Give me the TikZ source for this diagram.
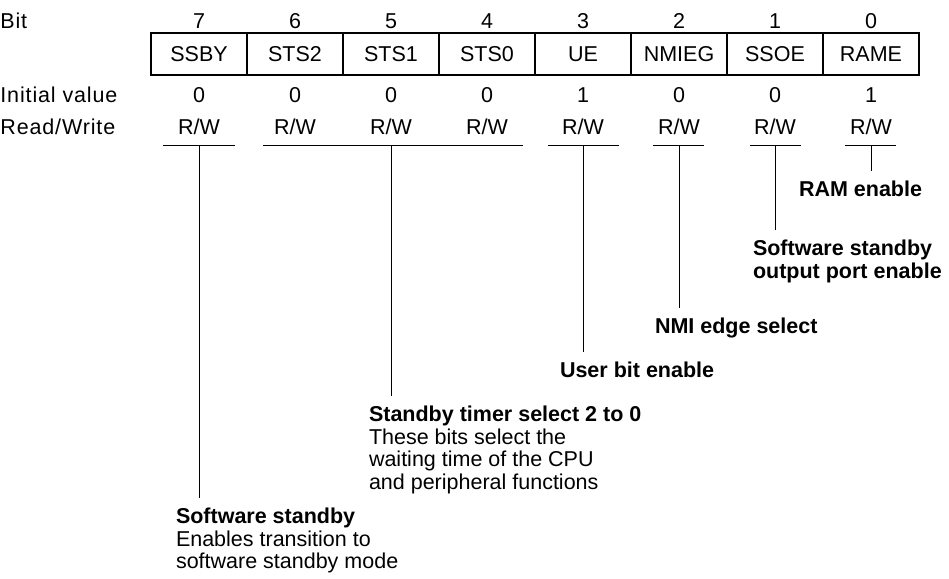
\documentclass[tikz,border=0pt]{standalone}
\usepackage{fontspec}
\setsansfont{Liberation Sans}
\usetikzlibrary{positioning}

\begin{document}
\begin{tikzpicture}[x=0.5pt, y=-0.5pt, font=\sffamily\fontsize{10.75}{11.25}\selectfont,
    cell/.style={draw, line width=0.7pt, minimum width=48pt, minimum height=21pt,
        inner sep=0pt, outer sep=0pt, text height=7.7pt, text depth=0pt},
    val/.style={inner sep=0pt, text height=7.7pt, text depth=0pt},
    rowlbl/.style={val, anchor=west},
    desc/.style={anchor=north west, align=left, inner sep=0pt,
        outer xsep=0pt, outer ysep=5pt},
    bar/.style={line width=0.5pt}]

    \useasboundingbox (0,0) rectangle (949,579);

    % 1. Row headings
    \node[rowlbl] (bitlbl) at (0,21) {\addfontfeature{LetterSpace=4}Bit};
    \node[rowlbl] (initlbl) at (0,95) {\addfontfeature{LetterSpace=4}Initial value};
    \node[rowlbl] (rwlbl) at (0,127) {\addfontfeature{LetterSpace=4}Read/Write};

    % 2. Register cells with bit numbers, initial values and access
    \foreach \fld/\b/\iv in {SSBY/7/0, STS2/6/0, STS1/5/0, STS0/4/0,
                             UE/3/1, NMIEG/2/0, SSOE/1/0, RAME/0/1} {
        \node[cell] (c\b) at ({199+96*(7-\b)},54) {\fld};
        \node[val] (b\b) at (c\b |- bitlbl) {\b};
        \node[val] (i\b) at (c\b |- initlbl) {\iv};
        \node[val] (rw\b) at (c\b |- rwlbl) {R/W};
    }

    % 3. Underlines below R/W
    \draw[bar] (163,145) -- (235,145);
    \draw[bar] (263,145) -- (523,145);
    \draw[bar] (548,145) -- (619,145);
    \draw[bar] (653,145) -- (704,145);
    \draw[bar] (750,145) -- (801,145);
    \draw[bar] (845,145) -- (896,145);

    \coordinate (ssby-bar) at (c7 |- 0,145);
    \coordinate (sts-bar) at (c5 |- 0,145);
    \coordinate (ue-bar) at (c3 |- 0,145);
    \coordinate (nmi-bar) at (c2 |- 0,145);
    \coordinate (ssoe-bar) at (c1 |- 0,145);
    \coordinate (rame-bar) at (c0 |- 0,145);

    % 4. Field descriptions
    \node[desc] (ramelbl) at (799,171) {\textbf{RAM enable}};
    \node[desc] (ssoelbl) at (753,230) {\textbf{Software standby}\\\textbf{output port enable}};
    \node[desc] (nmilbl) at (655,308) {\textbf{NMI edge select}};
    \node[desc] (uelbl) at (560,352) {\textbf{User bit enable}};
    \node[desc] (stslbl) at (369,396) {\textbf{Standby timer select 2 to 0}\\These bits select the\\waiting time of the CPU\\and peripheral functions};
    \node[desc] (ssbylbl) at (176,498) {\textbf{Software standby}\\Enables transition to\\software standby mode};

    % 5. Leader lines
    \draw[bar] (rame-bar) -- (rame-bar |- ramelbl.north);
    \draw[bar] (ssoe-bar) -- (ssoe-bar |- ssoelbl.north);
    \draw[bar] (nmi-bar) -- (nmi-bar |- nmilbl.north);
    \draw[bar] (ue-bar) -- (ue-bar |- uelbl.north);
    \draw[bar] (sts-bar) -- (sts-bar |- stslbl.north);
    \draw[bar] (ssby-bar) -- (ssby-bar |- ssbylbl.north);

\end{tikzpicture}
\end{document}
